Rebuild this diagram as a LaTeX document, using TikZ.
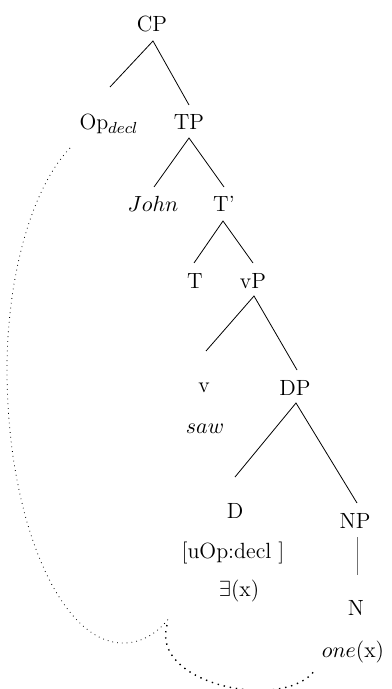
\documentclass[tikz,border=0pt]{standalone}
\begin{document}
\begin{tikzpicture}[x=0.5pt,y=-0.5pt,
  lbl/.style={anchor=base,inner sep=0pt,font=\fontsize{11}{13}\selectfont},
  branch/.style={line width=0.4pt},
  unary/.style={line width=0.4pt,draw=black!55},
  agreethin/.style={line width=0.4pt,dash pattern=on 0.4pt off 2pt},
  agreethick/.style={line width=0.7pt,dash pattern=on 0.7pt off 2.4pt}]
\useasboundingbox (0,0) rectangle (391,689);
% labels
\node[lbl] (CP) at (152,32) {CP};
\node[lbl] (Op) at (109,130) {Op$_{decl}$};
\node[lbl] (TP) at (189,130) {TP};
\node[lbl] (John) at (153,212) {$John$};
\node[lbl] (Tbar) at (224,212) {T'};
\node[lbl] (T) at (195,288) {T};
\node[lbl] (vP) at (253,288) {vP};
\node[lbl] (v) at (204,392) {v};
\node[lbl] (DP) at (295,395) {DP};
\node[lbl] (saw) at (205,433) {$saw$};
\node[lbl] (D) at (235,518) {D};
\node[lbl] (NP) at (355,528) {NP};
\node[lbl] (feat) at (233,558) {[uOp:decl ]};
\node[lbl] (ex) at (239,596) {$\exists$(x)};
\node[lbl] (N) at (356,615) {N};
\node[lbl] (one) at (353,657) {$one$(x)};
% edge end points
\coordinate (CPb) at (153,41);
\coordinate (Opt) at (110,87);
\coordinate (TPt) at (189,105);
\coordinate (TPb) at (189,138);
\coordinate (Johnt) at (154,187);
\coordinate (Tbart) at (224,187);
\coordinate (Tbarb) at (223,221);
\coordinate (Tt) at (194,263);
\coordinate (vPt) at (253,263);
\coordinate (vPb) at (254,296);
\coordinate (vt) at (206,351);
\coordinate (DPt) at (297,370);
\coordinate (DPb) at (296,403);
\coordinate (Dt) at (235,477);
\coordinate (NPt) at (357,503);
\coordinate (NPb) at (357,537);
\coordinate (Nt) at (357,575);
% branches
\draw[branch] (Opt) -- (CPb) -- (TPt);
\draw[branch] (Johnt) -- (TPb) -- (Tbart);
\draw[branch] (Tt) -- (Tbarb) -- (vPt);
\draw[branch] (vt) -- (vPb) -- (DPt);
\draw[branch] (Dt) -- (DPb) -- (NPt);
\draw[unary] (NPb) -- (Nt);
% dotted curves
\coordinate (c1s) at (70,148);
\coordinate (c1m) at (7,370);
\coordinate (c1b) at (123,643);
\coordinate (c1e) at (170,617);
\draw[agreethin] (c1s) .. controls (30,190) and (7,280) .. (c1m)
  .. controls (7,520) and (60,643) .. (c1b)
  .. controls (145,643) and (160,630) .. (c1e);
\coordinate (c2s) at (167,625);
\coordinate (c2e) at (315,670);
\draw[agreethick] (c2s) .. controls (150,685) and (285,712) .. (c2e);
\end{tikzpicture}
\end{document}
